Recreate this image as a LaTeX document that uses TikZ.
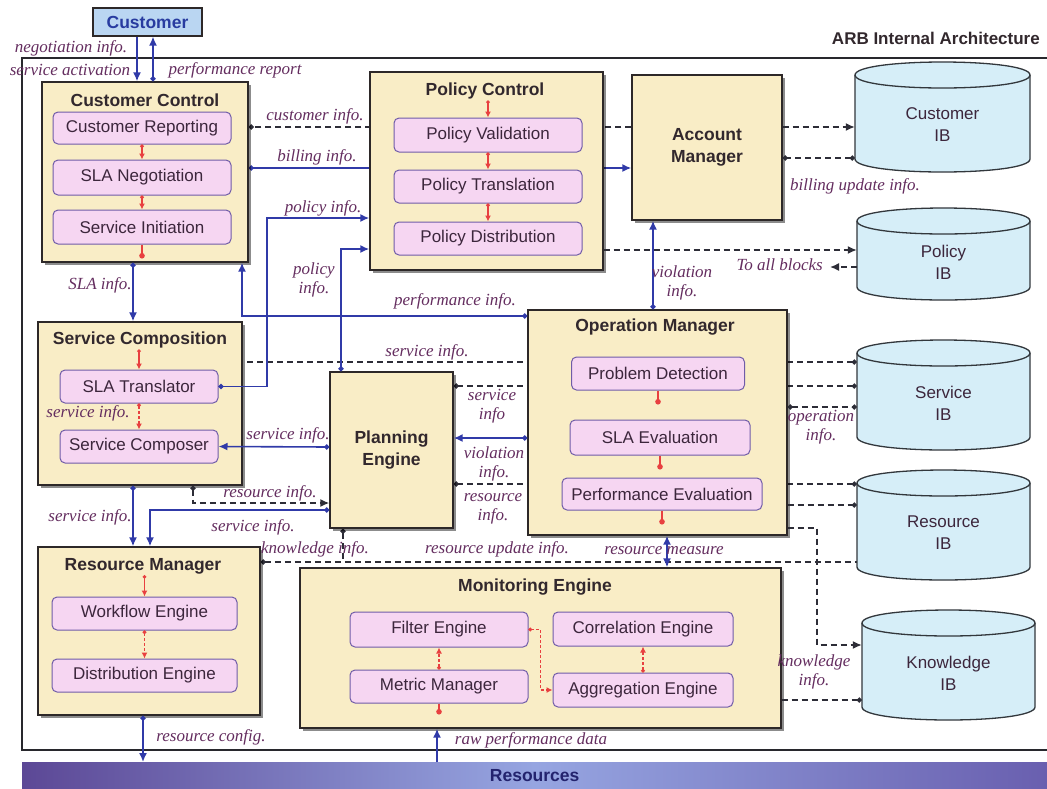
\documentclass[tikz,border=0pt]{standalone}
\usepackage{fontspec}
\setmainfont{Liberation Serif}
\setsansfont{Liberation Sans}
\usetikzlibrary{arrows.meta,shadows}
\pgfdeclarelayer{background}
\pgfsetlayers{background,main}

\definecolor{panelfill}{RGB}{249,237,198}
\definecolor{panelline}{RGB}{45,40,40}
\definecolor{subfill}{RGB}{246,214,242}
\definecolor{subline}{RGB}{112,92,168}
\definecolor{flowblue}{RGB}{48,58,168}
\definecolor{refgray}{RGB}{45,45,55}
\definecolor{linkred}{RGB}{232,64,64}
\definecolor{lblcol}{RGB}{100,45,95}
\definecolor{headcol}{RGB}{50,40,45}
\definecolor{subtext}{RGB}{60,38,60}
\definecolor{cylfill}{RGB}{214,238,248}
\definecolor{cylline}{RGB}{50,55,60}
\definecolor{custfill}{RGB}{186,214,242}
\definecolor{custtext}{RGB}{40,60,160}
\definecolor{resleft}{RGB}{92,72,150}
\definecolor{resmid}{RGB}{150,165,225}
\definecolor{resright}{RGB}{105,95,175}
\definecolor{restext}{RGB}{35,35,110}
\definecolor{framecol}{RGB}{40,40,45}

% information base drawn as a cylinder: name, left, right, top, bottom, text
\newcommand{\infobase}[6]{%
  \filldraw[cylbody] ({#2},{#4+13}) -- ({#2},{#5-13})
    .. controls ({#2},{#5+4.33}) and ({#3},{#5+4.33}) .. ({#3},{#5-13})
    -- ({#3},{#4+13})
    .. controls ({#3},{#4-4.33}) and ({#2},{#4-4.33}) .. ({#2},{#4+13}) -- cycle;
  \draw[cylrim] ({#2},{#4+13}) .. controls ({#2},{#4+30.33}) and ({#3},{#4+30.33}) .. ({#3},{#4+13});
  \node[cyltext, minimum width={(#3)-(#2)}, minimum height={(#5)-(#4)}] (#1) at ({((#2)+(#3))/2},{((#4)+(#5))/2}) {#6};
}

\begin{document}
\begin{tikzpicture}[x=1pt, y=-1pt,
  panel/.style={draw=panelline, line width=1.4pt, fill=panelfill, inner sep=0pt,
    drop shadow={shadow xshift=2.5pt, shadow yshift=-2.5pt, fill=black, opacity=0.45}},
  bighead/.style={font=\sffamily\bfseries\fontsize{17.5}{22}\selectfont, text=headcol, align=center},
  head/.style={font=\sffamily\bfseries\fontsize{17.5}{20}\selectfont, text=headcol, inner sep=1pt},
  unit/.style={draw=subline, line width=1pt, fill=subfill, rounded corners=5pt, inner sep=0pt,
    font=\sffamily\fontsize{17}{19}\selectfont, text=subtext},
  lbl/.style={font=\rmfamily\itshape\fontsize{17}{19}\selectfont, text=lblcol, inner sep=0pt, align=center},
  flow/.style={draw=flowblue, line width=1.6pt, arrows={-Latex[length=9pt,width=8pt]}},
  ref/.style={draw=refgray, line width=1.5pt, dash pattern=on 6pt off 4pt},
  toarrow/.style={arrows={-Latex[length=9pt,width=8pt]}},
  dotarrow/.style={arrows={Circle[length=5pt]-Latex[length=9pt,width=8pt]}},
  dotdot/.style={arrows={Circle[length=5pt]-Circle[length=5pt]}},
  todot/.style={arrows={-Circle[length=5pt]}},
  fromdot/.style={arrows={Circle[length=5pt]-}},
  twoway/.style={arrows={Latex[length=9pt,width=8pt]-Latex[length=9pt,width=8pt]}},
  redlink/.style={draw=linkred, line width=1.4pt, arrows={Circle[length=3.5pt]-Latex[length=6pt,width=6pt]}},
  reddash/.style={dash pattern=on 3pt off 2pt},
  redstub/.style={draw=linkred, line width=1.4pt, arrows={-Circle[length=5.5pt]}},
  cylbody/.style={draw=cylline, line width=1.3pt, fill=cylfill},
  cylrim/.style={draw=cylline, line width=1.3pt},
  cyltext/.style={font=\sffamily\fontsize{17}{22}\selectfont, text=subtext, align=center, inner sep=0pt, yshift=-8pt},
]
\useasboundingbox (0,0) rectangle (1047,788);

% row and column helpers for connector routing
\foreach \yy in {127,158,168,218,249,250,267,316,362,386,407,438,447,484,503,505,510,528,562,645,700}
  {\coordinate (h\yy) at (0,\yy);}
\foreach \xx in {133,137,143,150,153,193,242,267,341,343,437,653,667,817}
  {\coordinate (v\xx) at (\xx,0);}
\coordinate (allblocks) at (830,267);

% customer and resources
\node[draw=panelline, line width=1.2pt, fill=custfill, minimum width=109pt, minimum height=28pt, inner sep=0pt,
  font=\sffamily\bfseries\fontsize{17.5}{20}\selectfont, text=custtext] (cust) at (147.5,22) {Customer};
\node[font=\sffamily\bfseries\fontsize{17}{20}\selectfont, text=headcol, anchor=east, inner sep=0pt] (arb) at (1040,38) {ARB Internal Architecture};
\node[anchor=north west, minimum width=1025pt, minimum height=26pt, inner sep=0pt,
  left color=resleft, right color=resright, middle color=resmid,
  font=\sffamily\bfseries\fontsize{17.5}{20}\selectfont, text=restext] (res) at (22,762) {Resources};

% Customer Control
\node[panel, minimum width=206pt, minimum height=180pt] (cc) at (145,172) {};
\node[head] (cch) at (145,100) {Customer Control};
\node[unit, minimum width=178pt, minimum height=32pt] (cr) at (142,128) {Customer Reporting};
\node[unit, minimum width=178pt, minimum height=35pt] (sn) at (142,177.5) {SLA Negotiation};
\node[unit, minimum width=178pt, minimum height=34pt] (si) at (142,227) {Service Initiation};

% Policy Control
\node[panel, minimum width=233pt, minimum height=198pt] (pc) at (486.5,171) {};
\node[head] (pch) at (485,91) {Policy Control};
\node[unit, minimum width=188pt, minimum height=34pt] (pv) at (488,135) {Policy Validation};
\node[unit, minimum width=188pt, minimum height=33pt] (pt) at (488,186.5) {Policy Translation};
\node[unit, minimum width=188pt, minimum height=33pt] (pd) at (488,238.5) {Policy Distribution};

% Account Manager
\node[panel, bighead, minimum width=150pt, minimum height=145pt] (am) at (707,147.5) {Account\\Manager};

% Service Composition
\node[panel, minimum width=204pt, minimum height=163pt] (sc) at (140,403.5) {};
\node[head] (sch) at (140,340) {Service Composition};
\node[unit, minimum width=158pt, minimum height=33pt] (st) at (139,386.5) {SLA Translator};
\node[unit, minimum width=158pt, minimum height=33pt] (scp) at (139,446.5) {Service Composer};

% Planning Engine
\node[panel, bighead, minimum width=123pt, minimum height=156pt] (pe) at (391.5,450) {Planning\\Engine};

% Operation Manager
\node[panel, minimum width=259pt, minimum height=225pt] (om) at (657.5,422.5) {};
\node[head] (omh) at (655,327) {Operation Manager};
\node[unit, minimum width=173pt, minimum height=33pt] (prd) at (658,373.5) {Problem Detection};
\node[unit, minimum width=180pt, minimum height=35pt] (sle) at (660,437.5) {SLA Evaluation};
\node[unit, minimum width=200pt, minimum height=32pt] (pfe) at (662,494) {Performance Evaluation};

% Resource Manager
\node[panel, minimum width=222pt, minimum height=168pt] (rm) at (149,631) {};
\node[head] (rmh) at (143,566) {Resource Manager};
\node[unit, minimum width=185pt, minimum height=33pt] (we) at (144.5,613.5) {Workflow Engine};
\node[unit, minimum width=185pt, minimum height=33pt] (de) at (144.5,675.5) {Distribution Engine};

% Monitoring Engine
\node[panel, minimum width=481pt, minimum height=160pt] (me) at (540.5,648) {};
\node[head] (meh) at (535,587) {Monitoring Engine};
\node[unit, minimum width=178pt, minimum height=35pt] (fe) at (439,629.5) {Filter Engine};
\node[unit, minimum width=180pt, minimum height=34pt] (ce) at (643,629) {Correlation Engine};
\node[unit, minimum width=178pt, minimum height=33pt] (mm) at (439,686.5) {Metric Manager};
\node[unit, minimum width=180pt, minimum height=34pt] (ae) at (643,690) {Aggregation Engine};

% information bases
\infobase{cib}{855}{1030}{62}{172}{Customer\\IB}
\infobase{pib}{857}{1030}{208}{300}{Policy\\IB}
\infobase{sib}{857}{1030}{340}{450}{Service\\IB}
\infobase{rib}{857}{1030}{470}{580}{Resource\\IB}
\infobase{kib}{862}{1035}{610}{720}{Knowledge\\IB}

% links that run behind the blocks
\begin{pgfonlayer}{background}
  \fill[white] (0,0) rectangle (1047,788);
  \draw[framecol, line width=1.2pt] (1047,58) -- (22,58) -- (22,750) -- (1047,750);
  \draw[ref, todot] (am.west |- h127) -- (cc.east |- h127);
  \draw[flow, dotarrow] (cc.east |- h168) -- (am.west |- h168);
  \draw[ref, fromdot] (sib.west |- h362) -- (sc.east |- h362);
  \draw[ref, dotdot] (sib.west |- h386) -- (pe.east |- h386);
  \draw[ref, dotdot] (rib.west |- h484) -- (pe.east |- h484);
  \draw[ref, fromdot] (rm.east |- h562) -- (rib.west |- h562);
  \draw[ref, fromdot] (pe.south -| v343) -- (v343 |- h562);
\end{pgfonlayer}

% customer interface
\draw[flow] (cust.south -| v137) -- (cc.north -| v137);
\draw[flow, dotarrow] (cc.north -| v153) -- (cust.south -| v153);

% blue information flows
\draw[flow, dotarrow] (st.east) -| (v267 |- h218) -- (pc.west |- h218);
\draw[flow, dotarrow] (pe.north -| v341) |- (pc.west |- h249);
\draw[flow, dotarrow] (om.west |- h316) -| (cc.south -| v242);
\draw[flow, dotarrow] (cc.south -| v133) -- (sc.north -| v133);
\draw[flow, dotarrow] (om.west |- h438) -- (pe.east |- h438);
\draw[flow, dotarrow] (pe.west |- h447) -- (scp.east);
\draw[ref, dotarrow] (sc.south -| v193) |- (pe.west |- h503);
\draw[flow, dotarrow] (pe.west |- h510) -| (rm.north -| v150);
\draw[flow, dotarrow] (sc.south -| v133) -- (rm.north -| v133);
\draw[flow, twoway] (me.north -| v667) -- (om.south -| v667);
\draw[flow, dotarrow] (om.north -| v653) -- (am.south -| v653);
\draw[flow, dotarrow] (rm.south -| v143) -- (res.north -| v143);
\draw[flow] (res.north -| v437) -- (me.south -| v437);

% information base links
\draw[ref, toarrow] (pc.east |- h250) -- (pib.west |- h250);
\draw[ref, toarrow] (pib.west |- h267) -- (allblocks);
\draw[ref, toarrow] (am.east |- h127) -- (cib.west |- h127);
\draw[ref, dotdot] (cib.west |- h158) -- (am.east |- h158);
\draw[ref, dotdot] (om.east |- h407) -- (sib.west |- h407);
\draw[ref, todot] (om.east |- h505) -- (rib.west |- h505);
\draw[ref, toarrow] (om.east |- h528) -| (v817 |- h645) -- (kib.west |- h645);
\draw[ref, todot] (me.east |- h700) -- (kib.west |- h700);

% internal steps
\draw[redlink] (cr.south) -- (sn.north);
\draw[redlink] (sn.south) -- (si.north);
\draw[redstub] (si.south) -- ++(0,14);
\draw[redlink] (pv.north |- pch.south) -- (pv.north);
\draw[redlink] (pv.south) -- (pt.north);
\draw[redlink] (pt.south) -- (pd.north);
\draw[redlink] (st.north |- sch.south) -- (st.north);
\draw[redlink, reddash] (st.south) -- (scp.north);
\draw[redlink] (we.north |- rmh.south) -- (we.north);
\draw[redlink, reddash] (we.south) -- (de.north);
\draw[redstub] (prd.south) -- ++(0,14);
\draw[redstub] (sle.south) -- ++(0,14);
\draw[redstub] (pfe.south) -- ++(0,14);
\draw[redstub] (mm.south) -- ++(0,11);
\draw[redlink, reddash] (mm.north) -- (fe.south);
\draw[redlink, reddash] (ae.north) -- (ce.south);
\draw[redlink, reddash] (fe.east) -- ++(12,0) |- (ae.west);

% flow labels
\node[lbl] (l1) at (71,48) {negotiation info.};
\node[lbl] (l2) at (70,70) {service activation};
\node[lbl] (l3) at (235,70) {performance report};
\node[lbl] (l4) at (315,116) {customer info.};
\node[lbl] (l5) at (317,157) {billing info.};
\node[lbl] (l6) at (323,208) {policy info.};
\node[lbl] (l7) at (314,280) {policy\\info.};
\node[lbl] (l8) at (455,301) {performance info.};
\node[lbl] (l9) at (100,285) {SLA info.};
\node[lbl] (l10) at (427,352) {service info.};
\node[lbl] (l11) at (492,406) {service\\info};
\node[lbl] (l12) at (494,464) {violation\\info.};
\node[lbl] (l13) at (493,509) {resource\\info.};
\node[lbl] (l14) at (288,435) {service info.};
\node[lbl] (l15) at (88,413) {service info.};
\node[lbl] (l16) at (270,493) {resource info.};
\node[lbl] (l17) at (253,527) {service info.};
\node[lbl] (l18) at (90,517) {service info.};
\node[lbl] (l19) at (315,549) {knowledge info.};
\node[lbl] (l20) at (497,549) {resource update info.};
\node[lbl] (l21) at (664,551) {resource measure};
\node[lbl] (l22) at (682,283) {violation\\info.};
\node[lbl, anchor=east] (l23) at (823,265) {To all blocks};
\node[lbl] (l24) at (855,186) {billing update info.};
\node[lbl] (l25) at (821,427) {operation\\info.};
\node[lbl] (l26) at (814,672) {knowledge\\info.};
\node[lbl] (l27) at (211,737) {resource config.};
\node[lbl] (l28) at (531,740) {raw performance data};
\end{tikzpicture}
\end{document}
